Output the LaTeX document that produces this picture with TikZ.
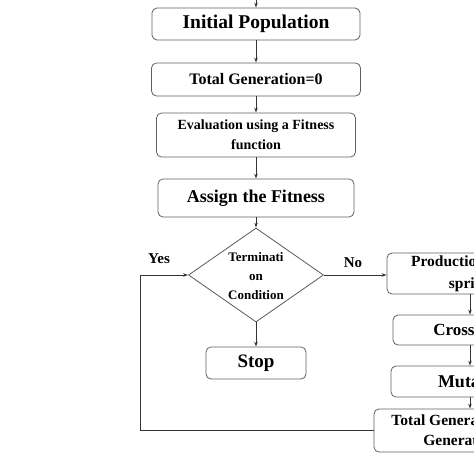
\documentclass[tikz,border=0pt]{standalone}
\usepackage{fontspec}
\setmainfont{Liberation Serif}
\usetikzlibrary{positioning, arrows.meta, shapes.geometric}

\begin{document}
\begin{tikzpicture}[
  x=1pt, y=-1pt,
  pbox/.style={draw=gray!75!black, rounded corners=5pt, align=center,
               inner sep=0pt, line width=0.8pt, font=\bfseries},
  dbox/.style={draw=gray!70!black, diamond, inner sep=0pt, line width=0.8pt,
               minimum width=135, minimum height=94},
  arr/.style={draw=black!80, line width=0.8pt, -{Stealth[length=5pt, width=3.5pt]}},
  lnk/.style={draw=black!80, line width=0.8pt},
  lbl/.style={font=\bfseries\fontsize{15}{17}\selectfont},
]
  \useasboundingbox (0,0) rectangle (474,474);
  \clip (0,0) rectangle (474,474);

  % main column
  \coordinate (top) at (256,0);
  \node[pbox, minimum width=208, minimum height=32, font=\bfseries\fontsize{19.5}{22}\selectfont] (init) at (256,24) {Initial Population};
  \node[pbox, minimum width=209, minimum height=33, font=\bfseries\fontsize{16}{18}\selectfont] (gen0) at (256,79.5) {Total Generation=0};
  \node[pbox, minimum width=199, minimum height=44, font=\bfseries\fontsize{14}{20}\selectfont] (eval) at (256,135) {Evaluation using a Fitness\\function};
  \node[pbox, minimum width=196, minimum height=38, font=\bfseries\fontsize{18}{20}\selectfont] (assign) at (256,198) {Assign the Fitness};
  \node[dbox] (cond) at (256,275) {};
  \node[align=center, font=\bfseries\fontsize{13}{19}\selectfont] (condtxt) at (256,276.5) {Terminati\\on\\Condition};
  \node[pbox, minimum width=100, minimum height=32, font=\bfseries\fontsize{19}{21}\selectfont] (stop) at (256,363) {Stop};

  % right column (cut by the right edge)
  \node[pbox, minimum width=166, minimum height=41, font=\bfseries\fontsize{15.5}{22}\selectfont] (prod) at (470,273.5) {Production of off-\\spring};
  \node[pbox, minimum width=154, minimum height=30, font=\bfseries\fontsize{17}{19}\selectfont] (cross) at (470,330) {Crossover};
  \node[pbox, minimum width=166, minimum height=31, font=\bfseries\fontsize{18}{20}\selectfont] (mut) at (474,381.5) {Mutation};
  \node[pbox, minimum width=198, minimum height=43, font=\bfseries\fontsize{15.5}{20}\selectfont] (totgen) at (473,430.5) {Total Generation = Total\\Generation + 1};

  % labels
  \node[lbl] (yes) at (159,259) {Yes};
  \node[lbl] (no) at (353,263) {No};

  % connectors
  \draw[arr] (top) -- (init);
  \draw[arr] (init) -- (gen0);
  \draw[arr] (gen0) -- (eval);
  \draw[arr] (eval) -- (assign);
  \draw[arr] (assign) -- (cond);
  \draw[arr] (cond) -- (stop);
  \draw[arr] (cond.east) -- (prod.west |- cond.east);
  \draw[arr] (prod) -- (cross);
  \draw[arr] (cross) -- (cross.south |- mut.north);
  \draw[arr] (cross.south |- mut.south) -- (cross.south |- totgen.north);

  % loop back
  \coordinate (loop) at (140,431);
  \draw[lnk] (totgen.west) -- (loop |- totgen.west) -- (loop |- cond.west);
  \draw[arr] (loop |- cond.west) -- (cond.west);
\end{tikzpicture}
\end{document}
